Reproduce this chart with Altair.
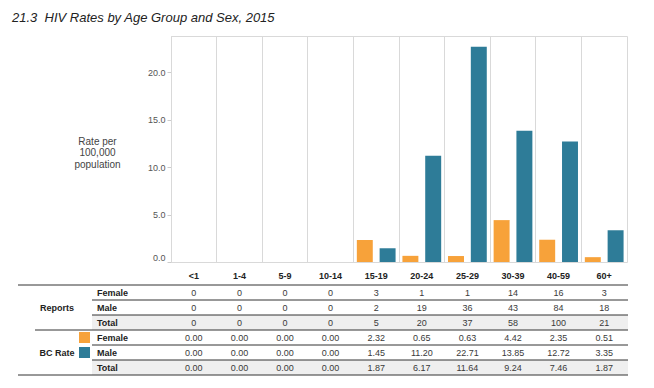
import altair as alt
import pandas as pd

ages = ["<1", "1-4", "5-9", "10-14", "15-19", "20-24", "25-29", "30-39", "40-59", "60+"]
sexes = ["Female", "Male"]

reports_female = [0, 0, 0, 0, 3, 1, 1, 14, 16, 3]
reports_male = [0, 0, 0, 0, 2, 19, 36, 43, 84, 18]
reports_total = [0, 0, 0, 0, 5, 20, 37, 58, 100, 21]
rate_female = [0.00, 0.00, 0.00, 0.00, 2.32, 0.65, 0.63, 4.42, 2.35, 0.51]
rate_male = [0.00, 0.00, 0.00, 0.00, 1.45, 11.20, 22.71, 13.85, 12.72, 3.35]
rate_total = [0.00, 0.00, 0.00, 0.00, 1.87, 6.17, 11.64, 9.24, 7.46, 1.87]

row_keys = ["rep_f", "rep_m", "rep_t", "bc_f", "bc_m", "bc_t"]
row_labels = ["Female", "Male", "Total", "Female", "Male", "Total"]
group_labels = ["Reports", "BC Rate"]
y_ticks = [0, 5, 10, 15, 20]

ORANGE = "#F7A23A"
TEAL = "#2E7C98"
FONT = "Liberation Sans"

bar_df = pd.DataFrame({
    "age": ages * 2,
    "sex": ["Female"] * len(ages) + ["Male"] * len(ages),
    "rate": rate_female + rate_male,
})

table_cols = [
    [str(v) for v in reports_female],
    [str(v) for v in reports_male],
    [str(v) for v in reports_total],
    [f"{v:.2f}" for v in rate_female],
    [f"{v:.2f}" for v in rate_male],
    [f"{v:.2f}" for v in rate_total],
]
tab_rows = []
for key, vals in zip(row_keys, table_cols):
    for a, v in zip(ages, vals):
        tab_rows.append({"age": a, "row": key, "txt": v})
tab_df = pd.DataFrame(tab_rows)

x_scale = alt.Scale(domain=ages, paddingInner=0, paddingOuter=0)
row_scale = alt.Scale(domain=row_keys, range=[249, 339], paddingInner=0, paddingOuter=0)
color_scale = alt.Scale(domain=sexes, range=[ORANGE, TEAL])

x_axis = alt.Axis(
    title=None, labelAngle=0, labelFontWeight="bold", labelFontSize=9,
    labelColor="#222", labelPadding=9, ticks=False, domain=False,
    grid=True, gridColor="#d9d9d9", bandPosition=0,
)
x_enc = alt.X("age:N", scale=x_scale, sort=ages, axis=x_axis)

bars = alt.Chart(bar_df).mark_bar().encode(
    x=x_enc,
    xOffset=alt.XOffset("sex:N", scale=alt.Scale(domain=sexes, paddingInner=0.3, paddingOuter=0.15)),
    y=alt.Y(
        "rate:Q",
        scale=alt.Scale(domain=[0, 23.85], nice=False),
        axis=alt.Axis(
            values=y_ticks, format=".1f",
            title=["Rate per", "100,000", "population"],
            titleAngle=0, titleX=-74, titleY=100, titleAlign="center",
            titleBaseline="top", titleFontSize=10, titleFontWeight="normal",
            titleColor="#444", titleLineHeight=11.5,
            labelFontSize=9, labelColor="#555", tickSize=4, tickColor="#cccccc",
            domainColor="#d9d9d9", grid=False, labelPadding=2,
            labelBaseline={"condition": {"test": "datum.value === 0", "value": "bottom"}, "value": "middle"},
        ),
    ),
    color=alt.Color("sex:N", scale=color_scale, legend=None),
)

def row_y(band=0.5):
    return alt.Y("row:N", scale=row_scale, axis=None, bandPosition=band)

bg = alt.Chart(pd.DataFrame({"row": ["rep_t", "bc_t"]})).mark_rect(color="#efefef").encode(
    y=alt.Y("row:N", scale=row_scale, axis=None),
    x=alt.value(-79), x2=alt.value(457),
)

inner_rules = alt.Chart(pd.DataFrame({"row": ["rep_f", "rep_m", "bc_f", "bc_m"]})).mark_rule(
    color="#333", strokeWidth=1).encode(y=row_y(1), x=alt.value(-79), x2=alt.value(457))
group_rule = alt.Chart(pd.DataFrame({"row": ["rep_t"]})).mark_rule(
    color="#333", strokeWidth=1).encode(y=row_y(1), x=alt.value(-136), x2=alt.value(457))
top_rule = alt.Chart(pd.DataFrame({"row": ["rep_f"]})).mark_rule(
    color="#333", strokeWidth=1).encode(y=row_y(0), x=alt.value(-153), x2=alt.value(457))
bottom_rule = alt.Chart(pd.DataFrame({"row": ["bc_t"]})).mark_rule(
    color="#333", strokeWidth=1).encode(y=row_y(1), x=alt.value(-153), x2=alt.value(457))

values_text = alt.Chart(tab_df).mark_text(fontSize=9, color="#3a3a3a", font=FONT).encode(
    x=x_enc, y=alt.Y("row:N", scale=row_scale, axis=None), text="txt:N",
)

row_text = alt.Chart(pd.DataFrame({"row": row_keys, "label": row_labels})).mark_text(
    align="left", fontSize=9, fontWeight="bold", color="#222", font=FONT).encode(
    x=alt.value(-74), y=alt.Y("row:N", scale=row_scale, axis=None), text="label:N",
)

group_text = alt.Chart(pd.DataFrame({"row": ["rep_m", "bc_m"], "label": group_labels})).mark_text(
    align="center", fontSize=9, fontWeight="bold", color="#222", font=FONT).encode(
    x=alt.value(-114), y=alt.Y("row:N", scale=row_scale, axis=None), text="label:N",
)

swatches = alt.Chart(pd.DataFrame({"row": ["bc_f", "bc_m"], "sex": sexes})).mark_square(
    size=121, opacity=1).encode(
    x=alt.value(-86.5), y=alt.Y("row:N", scale=row_scale, axis=None),
    color=alt.Color("sex:N", scale=color_scale, legend=None),
)

table = alt.layer(bg, inner_rules, group_rule, top_rule, bottom_rule,
                  values_text, row_text, group_text, swatches)

chart = alt.layer(bars, table).resolve_scale(y="independent").properties(
    width=456, height=226,
    autosize=alt.AutoSizeParams(type="none"),
    padding={"left": 163, "top": 28, "right": 19, "bottom": 115},
    title=alt.Title(
        "21.3\u00a0 HIV Rates by Age Group and Sex, 2015",
        anchor="start", frame="group", dx=-159, dy=15, offset=16, baseline="alphabetic",
        fontSize=13, fontStyle="italic", fontWeight="normal", color="#222", font=FONT,
    ),
).configure(font=FONT).configure_view(stroke="#d9d9d9").configure_axis(
    labelFont=FONT, titleFont=FONT,
)

chart.save("out.html", embed_options={"renderer": "svg", "actions": False})
